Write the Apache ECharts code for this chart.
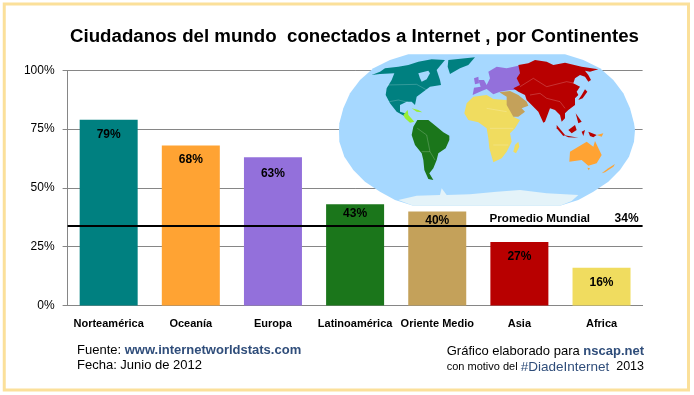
<!DOCTYPE html>
<html>
<head>
<meta charset="utf-8">
<script src="https://cdn.jsdelivr.net/npm/echarts@6/dist/echarts.min.js"></script>
<style>
html, body { margin: 0; padding: 0; background: #fff; }
#chart { width: 694px; height: 395px; }
</style>
</head>
<body>
<div id="chart"></div>
<script>
var continents = ['Norteamérica', 'Oceanía', 'Europa', 'Latinoamérica', 'Oriente Medio', 'Asia', 'Africa'];
var connected = [79, 68, 63, 43, 40, 27, 16];
var barColors = ['#008080', '#FFA333', '#9370DB', '#1B761B', '#C4A15A', '#B80000', '#F0DC5F'];
var labelOffsets = [9, 8, 10, 3, 3, 9, 9];
var worldAverage = 34;
var averageName = 'Promedio Mundial';

// hand traced outlines of the inset map, in 3x pixels
var mapShapes = [
    ['#A6D8FF', [[235,28],[705,28],[760,45],[810,70],[850,105],[880,145],[900,190],[912,235],[915,255],[912,290],[897,335],[870,375],[835,410],[790,440],[745,465],[690,482],[250,482],[195,465],[150,440],[105,410],[70,375],[43,335],[28,290],[27,255],[28,235],[40,190],[60,145],[90,105],[130,70],[180,45]]],
    ['#E4F3F9', [[205,465],[260,452],[330,450],[335,430],[350,450],[420,448],[500,440],[570,435],[650,445],[745,450],[725,468],[690,482],[250,482]]],
    ['#008080', [[125,90],[150,80],[165,70],[205,65],[235,60],[265,50],[305,43],[345,45],[320,75],[330,105],[333,120],[300,125],[280,140],[260,155],[255,180],[245,170],[230,170],[210,180],[210,200],[225,205],[223,213],[200,200],[180,175],[167,150],[170,130],[185,105],[193,85],[150,87]]],
    ['#A6D8FF', [[265,85],[295,77],[300,85],[290,103],[275,110],[270,100]]],
    ['#008080', [[355,45],[435,37],[415,60],[390,70],[360,87],[353,65]]],
    ['#99EE33', [[220,210],[233,195],[235,210],[253,230],[240,233],[225,220]]],
    ['#99EE33', [[245,190],[265,195],[277,202],[260,200]]],
    ['#1B761B', [[262,225],[295,225],[320,245],[340,262],[358,272],[358,285],[347,310],[325,325],[320,345],[310,370],[298,385],[310,405],[295,402],[283,375],[280,345],[275,325],[255,300],[245,270],[250,245]]],
    ['#F0DC5F', [[430,155],[470,150],[490,162],[530,165],[540,190],[550,215],[570,225],[555,250],[540,265],[545,290],[530,320],[515,340],[490,352],[478,310],[475,280],[470,250],[445,232],[415,225],[403,205],[410,175]]],
    ['#F0DC5F', [[565,290],[568,305],[558,325],[550,320],[555,300]]],
    ['#9370DB', [[428,150],[432,128],[452,125],[445,105],[462,105],[470,120],[480,100],[475,80],[500,65],[530,70],[575,60],[575,135],[540,135],[510,140],[490,148],[470,132],[455,138]]],
    ['#9370DB', [[432,100],[445,95],[447,115],[435,118]]],
    ['#C4A15A', [[508,142],[540,138],[565,150],[590,170],[595,182],[575,190],[585,200],[565,215],[550,215],[530,180],[530,155]]],
    ['#B80000', [[565,60],[595,55],[615,45],[650,50],[670,60],[705,53],[755,65],[805,73],[780,80],[765,77],[775,90],[783,105],[775,110],[765,95],[750,90],[735,100],[730,115],[750,125],[740,140],[745,150],[735,160],[735,180],[715,195],[705,205],[705,220],[695,230],[690,210],[675,195],[660,190],[645,230],[640,233],[625,200],[605,180],[590,165],[585,150],[565,140],[550,130],[570,120],[560,100],[570,85]]],
    ['#B80000', [[765,133],[772,140],[758,160],[745,165],[755,150]]],
    ['#B80000', [[680,240],[705,270],[700,273],[680,250]]],
    ['#B80000', [[715,255],[735,240],[740,255],[725,265]]],
    ['#B80000', [[700,270],[745,278],[715,277]]],
    ['#B80000', [[737,205],[755,230],[745,235]]],
    ['#B80000', [[755,260],[765,255],[760,273]]],
    ['#B80000', [[775,260],[800,270],[790,277],[780,273]]],
    ['#FFA333', [[800,270],[820,265],[815,275]]],
    ['#FFA333', [[720,320],[745,305],[770,290],[790,305],[795,288],[815,330],[800,355],[775,362],[755,345],[718,350]]],
    ['#FFA333', [[772,368],[780,370],[776,376]]],
    ['#FFA333', [[815,385],[835,370],[855,357],[850,365],[825,382]]]
];
// a few of the faint country borders
var mapBorders = [
    [[170,120],[260,118],[290,135]], [[178,170],[205,165],[235,172]],
    [[262,250],[290,270],[300,320],[315,345]], [[275,320],[300,320]],
    [[470,190],[530,200]], [[480,250],[550,250]], [[490,300],[535,300]],
    [[570,125],[610,100],[650,125],[710,110],[735,115]],
    [[600,150],[630,145],[650,160],[690,170],[705,190]]
];

var chart = echarts.init(document.getElementById('chart'));
var font = '"Liberation Sans", Arial, sans-serif';
var blue = '#2F4D7A';

var mapChildren = mapShapes.map(function (s) {
    return { type: 'polygon', z: 10, shape: { points: s[1] }, style: { fill: s[0] } };
}).concat(mapBorders.map(function (b) {
    return { type: 'polyline', z: 11, shape: { points: b }, style: { fill: 'none', stroke: 'rgba(255,255,255,0.3)', lineWidth: 2 } };
}));

var barData = connected.map(function (v, i) {
    return {
        value: v,
        itemStyle: { color: barColors[i] },
        label: { distance: labelOffsets[i] }
    };
});

chart.setOption({
    animation: false,
    backgroundColor: '#fff',
    title: {
        text: 'Ciudadanos del mundo  conectados a Internet , por Continentes',
        left: 65,
        top: 22,
        textStyle: { fontFamily: font, fontSize: 18.7, fontWeight: 'bold', color: '#000' }
    },
    grid: { left: 67.6, top: 70.4, width: 575, height: 235 },
    xAxis: {
        type: 'category',
        data: continents,
        axisLine: { lineStyle: { color: '#868686', width: 1 } },
        axisTick: { length: 5, lineStyle: { color: '#868686' } },
        axisLabel: { interval: 0, margin: 13, fontFamily: font, fontSize: 11, fontWeight: 'bold', color: '#000' }
    },
    yAxis: {
        type: 'value',
        min: 0,
        max: 100,
        interval: 25,
        axisLine: { show: true, lineStyle: { color: '#868686', width: 1 } },
        axisTick: { show: true, length: 5, lineStyle: { color: '#868686' } },
        splitLine: { lineStyle: { color: '#868686', width: 1 } },
        axisLabel: { formatter: '{value}%', margin: 13, padding: [3, 0, 0, 0], fontFamily: font, fontSize: 12, color: '#000' }
    },
    series: [{
        type: 'bar',
        data: barData,
        barWidth: 58,
        label: {
            show: true,
            position: 'insideTop',
            formatter: '{c}%',
            fontFamily: font,
            fontSize: 12,
            fontWeight: 'bold',
            color: '#000'
        },
        markLine: {
            silent: true,
            symbol: 'none',
            lineStyle: { color: '#000', width: 2, type: 'solid' },
            label: {
                position: 'insideEndTop',
                distance: [4, 1],
                formatter: function (p) { return '{a|' + averageName + '}{b|' + p.value + '%}'; },
                rich: {
                    a: { fontFamily: font, fontSize: 11.6, fontWeight: 'bold', color: '#000', width: 125, align: 'left' },
                    b: { fontFamily: font, fontSize: 12, fontWeight: 'bold', color: '#000', align: 'right' }
                }
            },
            data: [{ yAxis: worldAverage }]
        }
    }],
    graphic: [
        {
            type: 'rect',
            shape: { x: 4.25, y: 4, width: 684.25, height: 386 },
            style: { fill: 'none', stroke: '#FBE09A', lineWidth: 3 }
        },
        {
            type: 'group',
            x: 330,
            y: 45,
            scaleX: 1 / 3,
            scaleY: 1 / 3,
            children: mapChildren
        },
        {
            type: 'text',
            x: 77,
            y: 343,
            style: {
                text: 'Fuente: {b|www.internetworldstats.com}\nFecha: Junio de 2012',
                fontFamily: font,
                fontSize: 13,
                lineHeight: 15,
                fill: '#000',
                rich: { b: { fontFamily: font, fontSize: 13, fontWeight: 'bold', fill: blue, lineHeight: 15 } }
            }
        },
        {
            type: 'text',
            x: 644,
            y: 343,
            style: {
                text: 'Gráfico elaborado para {b|nscap.net}\n{s|con motivo del }{h|#DiadeInternet}{y|  2013}',
                align: 'right',
                fontFamily: font,
                fontSize: 13,
                lineHeight: 16,
                fill: '#000',
                rich: {
                    b: { fontFamily: font, fontSize: 13, fontWeight: 'bold', fill: blue, lineHeight: 16 },
                    s: { fontFamily: font, fontSize: 11, fill: '#000', lineHeight: 16 },
                    h: { fontFamily: font, fontSize: 13.5, fill: blue, lineHeight: 16 },
                    y: { fontFamily: font, fontSize: 12.5, fill: '#000', lineHeight: 16 }
                }
            }
        }
    ]
});
</script>
</body>
</html>
